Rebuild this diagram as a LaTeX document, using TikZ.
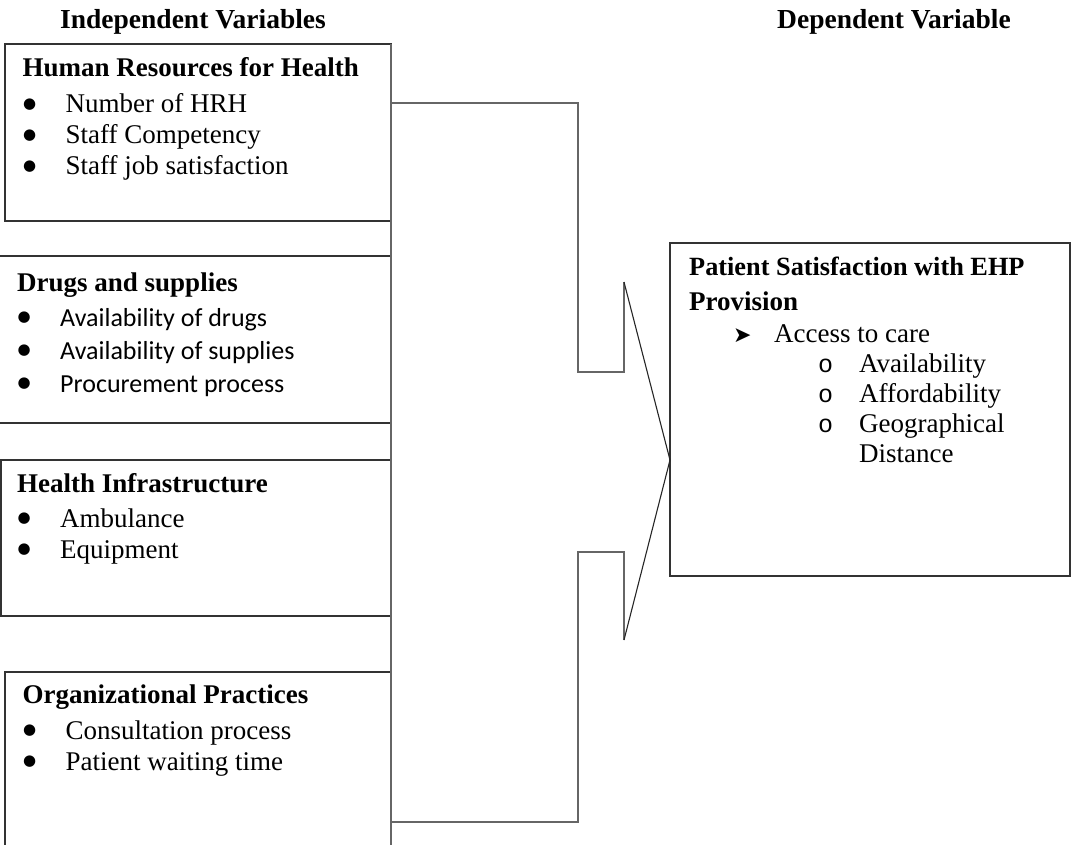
\documentclass[tikz,border=0pt]{standalone}
\usepackage{fontspec}
\setmainfont{Liberation Serif}
\newfontfamily\calibrifont{Carlito}
\newfontfamily\dingfont{DejaVu Sans}
\newfontfamily\courierfont{Liberation Mono}
\usepackage{tikz}

\newcommand{\bigbullet}{\raisebox{4.5pt}{\fontsize{15}{15}\dingfont ●}}
\newcommand{\bulletitem}[1]{\makebox[43pt][l]{\hspace*{0.5pt}\bigbullet}#1}
\newcommand{\arrowitem}[1]{\hspace*{44pt}\makebox[41pt][l]{\fontsize{22}{22}\dingfont ➤}#1}
\newcommand{\circitem}[1]{\hspace*{129pt}\makebox[41pt][l]{\fontsize{25}{25}\courierfont o}#1}

\begin{document}
\begin{tikzpicture}[x=1pt, y=-1pt,
		varbox/.style={draw=black!80, line width=1.4pt, inner sep=0pt, outer sep=0pt},
		varlist/.style={anchor=base west, inner sep=0pt, font=\fontsize{27}{31}\selectfont},
		heading/.style={anchor=base west, inner sep=0pt, font=\fontsize{27.5}{31}\selectfont\bfseries},
		link/.style={draw=black!60, line width=1.4pt},
		tip/.style={draw=black!85, line width=1.1pt}]
		\useasboundingbox (0,0) rectangle (1073,845);
		
		%column titles
		\node[heading] (indep title) at (60,29) {Independent Variables};
		\node[heading] (dep title) at (777,29) {Dependent Variable};
		
		%independent variable boxes
		\node[varbox, minimum width=386, minimum height=177] (hrh) at (198,132.5) {};
		\node[varbox, minimum width=396, minimum height=167] (drugs) at (193,339.5) {};
		\node[varbox, minimum width=390, minimum height=156] (infra) at (196,538) {};
		\node[varbox, minimum width=386, minimum height=188] (org) at (198,766) {};
		
		%dependent variable box
		\node[varbox, minimum width=400, minimum height=333] (dep) at (870,409.5) {};
		
		%box contents
		\node[varlist] (hrh text) at (22.5,77) {\begin{tabular}[t]{@{}l@{}}
				\textbf{Human Resources for Health}\\[5pt]
				\bulletitem{Number of HRH}\\
				\bulletitem{Staff Competency}\\
				\bulletitem{Staff job satisfaction}
			\end{tabular}};
		
		\node[varlist, font=\fontsize{27}{33}\selectfont] (drugs text) at (17,291) {\begin{tabular}[t]{@{}l@{}}
				\textbf{Drugs and supplies}\\[2pt]
				\bulletitem{\fontsize{26}{33}\calibrifont Availability of drugs}\\
				\bulletitem{\fontsize{26}{33}\calibrifont Availability of supplies}\\
				\bulletitem{\fontsize{26}{33}\calibrifont Procurement process}
			\end{tabular}};
		
		\node[varlist] (infra text) at (17,492) {\begin{tabular}[t]{@{}l@{}}
				\textbf{Health Infrastructure}\\[4pt]
				\bulletitem{Ambulance}\\
				\bulletitem{Equipment}
			\end{tabular}};
		
		\node[varlist] (org text) at (22.5,703) {\begin{tabular}[t]{@{}l@{}}
				\textbf{Organizational Practices}\\[5pt]
				\bulletitem{Consultation process}\\
				\bulletitem{Patient waiting time}
			\end{tabular}};
		
		\node[varlist, font=\fontsize{27}{30}\selectfont] (dep text) at (689,275) {\begin{tabular}[t]{@{}l@{}}
				\textbf{\fontsize{26.3}{30}\selectfont Patient Satisfaction with EHP}\\[5pt]
				\textbf{Provision}\\[2pt]
				\arrowitem{Access to care}\\
				\circitem{Availability}\\
				\circitem{Affordability}\\
				\circitem{Geographical}\\
				\hspace*{170pt}Distance
			\end{tabular}};
		
		%bracket joining the boxes
		\coordinate (upper arm) at (578,103);
		\coordinate (lower arm) at (578,822);
		\coordinate (upper tip) at (624,282);
		\coordinate (lower tip) at (624,640);
		
		\draw[link] (hrh.north east) -- (org.south east);
		\draw[link] (hrh.east |- upper arm) -- (upper arm) -- ++(0,269) -- ++(46,0) -- (upper tip);
		\draw[link] (lower tip) -- ++(0,-88) -- ++(-46,0) -- (lower arm) -- (org.east |- lower arm);
		\draw[tip] (upper tip) -- (dep.west |- 0,460) -- (lower tip);
		
	\end{tikzpicture}
\end{document}
